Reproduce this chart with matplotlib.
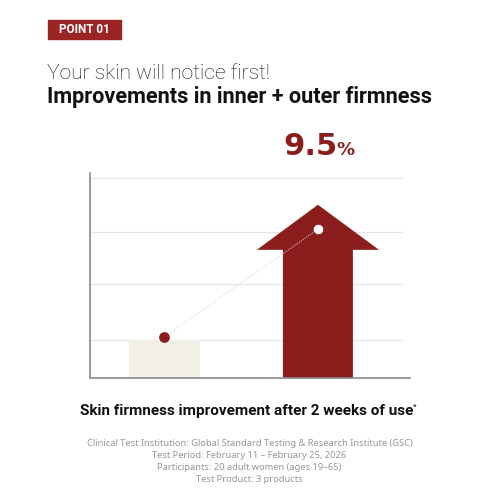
import matplotlib
matplotlib.use('Agg')
import matplotlib.pyplot as plt
from matplotlib.patches import Rectangle

# chart data (units: one gridline step = 1)
groups = ['Before', 'After 2 weeks']
x_pos = [0, 1]
bar_before = 0.70
shaft_top = 2.36
arrow_tip = 3.19
dot_values = [0.76, 2.74]
grid_levels = [0.70, 1.73, 2.69, 3.68]
result_label = '9.5'

footnotes = [
    'Clinical Test Institution: Global Standard Testing & Research Institute (GSC)',
    'Test Period: February 11 – February 25, 2026',
    'Participants: 20 adult women (ages 19–65)',
    'Test Product: 3 products',
]

RED = '#8c1d1d'
BEIGE = '#f2efe9'

plt.rcParams['font.family'] = ['Roboto', 'DejaVu Sans']

fig = plt.figure(figsize=(5, 5), dpi=100)
fig.patch.set_facecolor('white')

# header tag
fig.patches.append(Rectangle((48 / 500, 1 - 39 / 500), 73 / 500, 19 / 500,
                             transform=fig.transFigure, color='#9b2424'))
fig.text(84.5 / 500, 1 - 29.5 / 500, 'POINT 01', color='white', fontsize=8.5,
         fontweight='bold', ha='center', va='center')

fig.text(0.094, 0.842, 'Your skin will notice first!', fontsize=15.2,
         fontweight='light', color='#111111', va='baseline')
fig.text(0.094, 0.794, 'Improvements in inner + outer firmness', fontsize=15.6,
         fontweight='bold', color='#111111', va='baseline')

ax = fig.add_axes([0.18, 0.244, 0.64, 0.41])
ax.set_xlim(-0.485, 1.6)
ax.set_ylim(0, 3.775)

for g in grid_levels:
    ax.axhline(g, xmin=0, xmax=0.975, color='#e6e6e6', lw=0.9, zorder=0)

# before bar
ax.bar(x_pos[0], bar_before, width=0.46, color=BEIGE, zorder=1)

# after arrow
cx = x_pos[1]
half_shaft, half_head = 0.228, 0.398
ax.fill([cx - half_shaft, cx - half_shaft, cx - half_head, cx, cx + half_head,
         cx + half_shaft, cx + half_shaft],
        [0, shaft_top, shaft_top, arrow_tip, shaft_top, shaft_top, 0],
        color=RED, lw=0, zorder=2)

# connecting line and dots
ax.plot(x_pos, dot_values, color='#d9d9d9', lw=0.8, ls=(0, (1, 1)), alpha=0.8,
        zorder=3)
ax.scatter(x_pos[0], dot_values[0], s=45, color=RED, zorder=4)
ax.scatter(x_pos[1], dot_values[1], s=55, color='white', edgecolor=RED,
           lw=0.5, zorder=4)

for s in ['top', 'right']:
    ax.spines[s].set_visible(False)
for s in ['left', 'bottom']:
    ax.spines[s].set_color('#8a8a8a')
    ax.spines[s].set_linewidth(1.2)
ax.set_xticks([])
ax.set_yticks([])

# result label
fig.text(0.676, 0.69, result_label, fontsize=22, fontweight='bold',
         color=RED, ha='right', va='baseline', family='DejaVu Sans')
fig.text(0.673, 0.69, '%', fontsize=13, fontweight='bold', color=RED,
         ha='left', va='baseline', family='DejaVu Sans')

fig.text(0.494, 0.17, 'Skin firmness improvement after 2 weeks of use',
         fontsize=11, fontweight='bold', color='#111111', ha='center',
         va='baseline')
fig.text(0.826, 0.182, '*', fontsize=6, color='#111111', ha='left',
         va='baseline')

for i, line in enumerate(footnotes):
    fig.text(0.499, 0.112 - i * 0.024, line, fontsize=6.7, color='#969696',
             ha='center', va='center', family=['Noto Sans', 'DejaVu Sans'])

plt.savefig('out.png', dpi=100)
